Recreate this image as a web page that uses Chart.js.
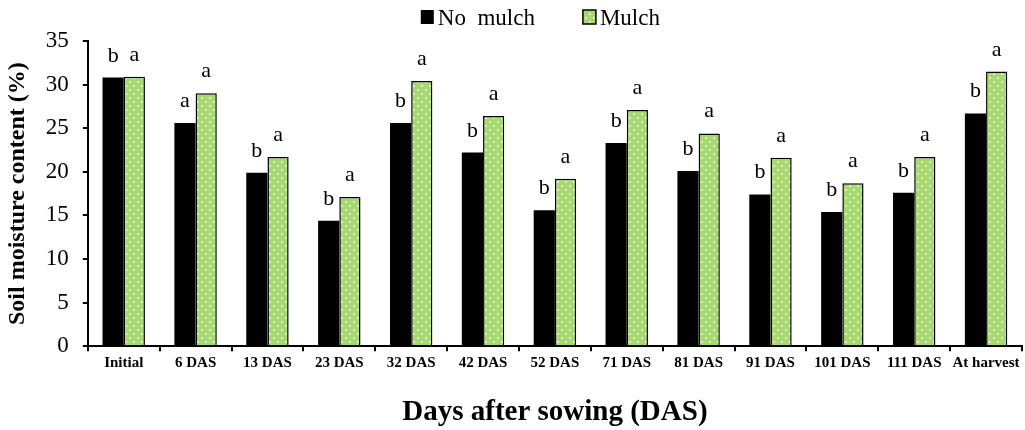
<!DOCTYPE html>
<html>
<head>
<meta charset="utf-8">
<script src="https://cdn.jsdelivr.net/npm/chart.js@4/dist/chart.umd.min.js"></script>
<style>
    html, body { margin: 0; padding: 0; background: #ffffff; }
    #box { width: 1025px; height: 430px; }
</style>
</head>
<body>
<div id="box"><canvas id="moistureChart"></canvas></div>
<script>

let categories = [
    "Initial", "6 DAS", "13 DAS", "23 DAS", "32 DAS", "42 DAS", "52 DAS",
    "71 DAS", "81 DAS", "91 DAS", "101 DAS", "111 DAS", "At harvest"
];

let noMulch = [30.8, 25.6, 19.9, 14.4, 25.6, 22.2, 15.6, 23.3, 20.1, 17.4, 15.4, 17.6, 26.7];
let mulch   = [30.9, 29.0, 21.7, 17.1, 30.4, 26.4, 19.2, 27.1, 24.4, 21.6, 18.7, 21.7, 31.5];

let lettersNoMulch = ["b", "a", "b", "b", "b", "b", "b", "b", "b", "b", "b", "b", "b"];
let lettersMulch   = ["a", "a", "a", "a", "a", "a", "a", "a", "a", "a", "a", "a", "a"];

let yTicks = [0, 5, 10, 15, 20, 25, 30, 35];

let serif = "'Liberation Serif', 'Times New Roman', serif";

// green fill with little white dots
function makeDots()
{
    let c = document.createElement("canvas");
    c.width = 8;
    c.height = 8;
    let g = c.getContext("2d");
    g.fillStyle = "#a8d872";
    g.fillRect(0, 0, 8, 8);
    g.fillStyle = "rgba(255,255,255,0.9)";
    g.beginPath();
    g.arc(2, 2, 0.9, 0, Math.PI * 2);
    g.arc(6, 6, 0.9, 0, Math.PI * 2);
    g.fill();
    return g.createPattern(c, "repeat");
}

let letterPlugin = {
    id: "letters",
    afterDatasetsDraw(chart)
    {
        let ctx = chart.ctx;
        ctx.save();
        ctx.font = "22px " + serif;
        ctx.fillStyle = "#000000";
        ctx.textAlign = "center";
        ctx.textBaseline = "alphabetic";
        let sets = [lettersNoMulch, lettersMulch];
        chart.data.datasets.forEach((ds, i) => {
            chart.getDatasetMeta(i).data.forEach((bar, j) => {
                ctx.fillText(sets[i][j], bar.x, bar.y - 16);
            });
        });
        ctx.restore();
    }
};

// small legend in the top band, boxes hugging the text
let legendPlugin = {
    id: "smallLegend",
    afterDraw(chart)
    {
        let ctx = chart.ctx;
        let x = chart.chartArea.left + 333;
        let y = 10;
        ctx.save();
        ctx.font = "23px " + serif;
        ctx.textBaseline = "alphabetic";
        ctx.fillStyle = "#000000";
        chart.data.datasets.forEach(ds => {
            ctx.fillStyle = ds.backgroundColor;
            ctx.fillRect(x, y, 13, 14);
            if (ds.borderWidth) {
                ctx.strokeStyle = "#000000";
                ctx.lineWidth = 1.5;
                ctx.strokeRect(x, y, 13, 14);
            }
            ctx.fillStyle = "#000000";
            ctx.fillText(ds.label, x + 17, y + 15);
            x += 17 + ctx.measureText(ds.label).width + 48;
        });
        ctx.restore();
    }
};

new Chart(
    document.getElementById("moistureChart"),
    {
        type: "bar",
        data: {
            labels: categories,
            datasets: [
                {
                    label: "No  mulch",
                    data: noMulch,
                    backgroundColor: "#000000",
                    borderColor: "#000000",
                    borderWidth: 0
                },
                {
                    label: "Mulch",
                    data: mulch,
                    backgroundColor: makeDots(),
                    borderColor: "#000000",
                    borderWidth: 1.5
                }
            ]
        },
        options: {
            responsive: true,
            maintainAspectRatio: false,
            animation: false,
            layout: { padding: { top: 41, right: 3, left: 3, bottom: 0 } },
            datasets: {
                bar: { categoryPercentage: 0.59, barPercentage: 1.0 }
            },
            plugins: {
                tooltip: { enabled: false },
                legend: { display: false }
            },
            scales: {
                x: {
                    grid: {
                        offset: true,
                        drawOnChartArea: false,
                        color: "#000000",
                        tickLength: 5,
                        lineWidth: 2
                    },
                    border: { color: "#000000", width: 2 },
                    ticks: {
                        color: "#000000",
                        maxRotation: 0,
                        autoSkip: false,
                        padding: 3,
                        font: { family: serif, size: 15, weight: "bold" }
                    },
                    title: {
                        display: true,
                        text: "Days after sowing (DAS)",
                        color: "#000000",
                        font: { family: serif, size: 29, weight: "bold" },
                        padding: { top: 20, bottom: 0 }
                    }
                },
                y: {
                    min: 0,
                    max: 35,
                    afterBuildTicks: axis => {
                        axis.ticks = yTicks.map(v => ({ value: v }));
                    },
                    grid: {
                        drawOnChartArea: false,
                        color: "#000000",
                        tickLength: 5,
                        lineWidth: 2
                    },
                    border: { color: "#000000", width: 2 },
                    ticks: {
                        color: "#000000",
                        padding: 14,
                        font: { family: serif, size: 23 }
                    },
                    title: {
                        display: true,
                        text: "Soil moisture content (%)",
                        color: "#000000",
                        font: { family: serif, size: 24, weight: "bold" },
                        padding: { top: 0, bottom: 0 }
                    }
                }
            }
        },
        plugins: [letterPlugin, legendPlugin]
    }
);

</script>
</body>
</html>
